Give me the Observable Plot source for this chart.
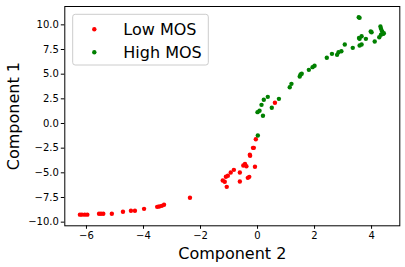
<!DOCTYPE html>
<html><head><meta charset="utf-8">
<script src="https://cdn.jsdelivr.net/npm/d3@7"></script>
<script src="https://cdn.jsdelivr.net/npm/@observablehq/plot@0.6"></script>
<style>body{margin:0;background:#fff} svg{display:block}</style>
</head><body><div id="chart"></div>
<script>
const seriesNames = ["Low MOS", "High MOS"];
const seriesColors = ["#ff0000", "#008000"];

const lowX = [-6.23,-6.16,-6.06,-5.97,-5.56,-5.49,-5.41,-5.11,-4.72,-4.44,-4.30,-3.98,-3.52,-3.45,-3.36,-3.28,-2.37,-1.22,-1.15,-1.08,-1.11,-1.04,-0.94,-0.83,-0.62,-0.62,-0.50,-0.44,-0.39,-0.34,-0.29,-0.27,-0.26,-0.16,-0.13,-0.09,-0.06,0.61];
const lowY = [-9.24,-9.24,-9.24,-9.24,-9.15,-9.15,-9.15,-9.15,-8.95,-8.85,-8.85,-8.65,-8.45,-8.41,-8.35,-8.24,-7.53,-5.78,-5.91,-6.42,-5.40,-5.30,-4.97,-4.70,-4.97,-5.88,-4.26,-4.09,-4.33,-5.51,-5.41,-3.17,-3.28,-2.47,-2.47,-4.39,-1.59,2.10];

const highX = [0.01,0.00,0.07,0.19,0.14,0.22,0.36,0.50,0.75,1.13,1.19,1.48,1.51,1.55,1.80,1.93,2.00,2.43,2.61,2.79,2.84,2.94,3.06,3.34,3.55,3.58,3.58,3.65,3.56,3.58,3.65,3.80,3.97,4.00,4.11,4.27,4.31,4.33,4.37,4.41,4.43,4.33];
const highY = [-1.22,1.15,1.29,0.78,1.89,2.40,2.70,1.59,2.50,3.68,4.02,4.76,4.97,5.04,5.44,5.71,5.85,6.66,7.06,6.96,7.23,7.33,8.01,7.67,10.77,10.71,8.58,8.85,8.66,7.91,8.01,8.58,9.32,9.25,8.31,8.75,9.83,9.60,9.36,9.09,9.15,8.99];

const xTicks = [-6, -4, -2, 0, 2, 4];
const yTicks = [-10, -7.5, -5, -2.5, 0, 2.5, 5, 7.5, 10];
const xLabel = "Component 2";
const yLabel = "Component 1";

const data = [
  ...lowX.map((x, i) => ({x, y: lowY[i], s: seriesNames[0]})),
  ...highX.map((x, i) => ({x, y: highY[i], s: seriesNames[1]}))
];

const font = "'DejaVu Sans', sans-serif";
const chart = Plot.plot({
  width: 405, height: 267,
  marginLeft: 64.3, marginRight: 5.7, marginTop: 6, marginBottom: 41.7,
  style: {fontFamily: font, fontSize: "10px", background: "#fff", color: "#000", overflow: "visible"},
  x: {domain: [-6.76, 4.99]},
  y: {domain: [-10.37, 11.86]},
  color: {domain: seriesNames, range: seriesColors},
  marks: [
    Plot.axisX(xTicks, {tickSize: 3.5, tickPadding: 3, tickFormat: d3.format(".0f"), label: null, fontSize: 10}),
    Plot.axisY(yTicks, {tickSize: 3.5, tickPadding: 2.5, tickFormat: d3.format(".1f"), label: null, fontSize: 10}),
    Plot.dot(data, {x: "x", y: "y", fill: "s", r: 2.2}),
    Plot.frame({stroke: "#000", strokeWidth: 1}),
    Plot.text([xLabel], {text: d => d, frameAnchor: "bottom", lineAnchor: "middle", textAnchor: "middle", dy: 28, fontSize: 16, fill: "#000"}),
    Plot.text([yLabel], {text: d => d, frameAnchor: "left", lineAnchor: "middle", textAnchor: "middle", rotate: -90, dx: -51, fontSize: 16, fill: "#000"})
  ]
});

const svg = d3.select(chart);
const lg = svg.append("g").attr("font-family", font).attr("text-anchor", "start");
lg.append("rect").attr("x", 72.7).attr("y", 14.3).attr("width", 135.6).attr("height", 50.7)
  .attr("rx", 2.5).attr("fill", "#fff").attr("fill-opacity", 0.8).attr("stroke", "#cccccc").attr("stroke-width", 1);
const rowY = [29.3, 52.3];
seriesNames.forEach((name, i) => {
  lg.append("circle").attr("cx", 94.3).attr("cy", rowY[i]).attr("r", 2.2).attr("fill", seriesColors[i]);
  lg.append("text").attr("x", 123.3).attr("y", rowY[i] + 5.2).attr("font-size", 16)
    .attr("text-anchor", "start").attr("fill", "#000").text(name);
});

document.getElementById("chart").appendChild(chart);
</script>
</body></html>
